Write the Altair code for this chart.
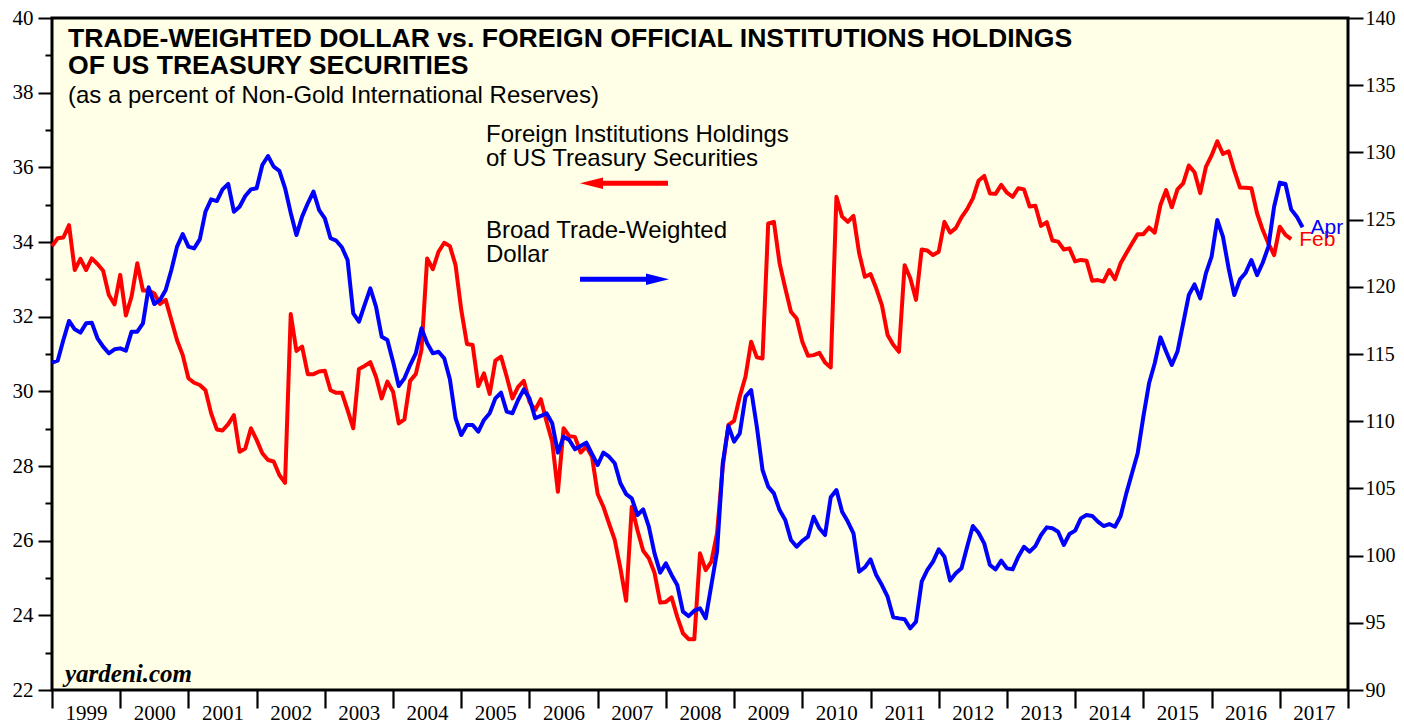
import altair as alt
import pandas as pd

# Foreign official institutions holdings of US Treasuries, % of non-gold reserves (left axis), monthly from Jan 1999
holdings = [
    33.89, 34.10, 34.12, 34.45, 33.25, 33.55, 33.25, 33.56, 33.41, 33.23, 32.58, 32.33,
    33.12, 32.03, 32.54, 33.43, 32.70, 32.70, 32.62, 32.34, 32.45, 31.91, 31.37, 30.97,
    30.35, 30.23, 30.17, 30.03, 29.41, 28.98, 28.95, 29.12, 29.36, 28.38, 28.47, 29.01,
    28.70, 28.34, 28.16, 28.12, 27.76, 27.55, 32.07, 31.08, 31.20, 30.46, 30.46, 30.53,
    30.55, 30.03, 29.96, 29.96, 29.50, 29.01, 30.60, 30.68, 30.78, 30.39, 29.81, 30.26,
    29.99, 29.14, 29.25, 30.28, 30.46, 31.11, 33.56, 33.27, 33.74, 33.98, 33.89, 33.38,
    32.18, 31.27, 31.24, 30.14, 30.48, 29.93, 30.82, 30.93, 30.39, 29.81, 30.12, 30.28,
    29.72, 29.50, 29.79, 29.19, 28.65, 27.31, 29.01, 28.80, 28.78, 28.36, 28.52, 28.25,
    27.25, 26.91, 26.46, 26.02, 25.26, 24.39, 26.91, 26.28, 25.73, 25.53, 25.14, 24.34,
    24.36, 24.48, 23.96, 23.52, 23.36, 23.36, 25.66, 25.21, 25.44, 26.20, 27.98, 29.10,
    29.21, 29.86, 30.39, 31.33, 30.91, 30.88, 34.50, 34.54, 33.43, 32.76, 32.13, 31.95,
    31.33, 30.95, 30.97, 31.03, 30.77, 30.64, 35.21, 34.68, 34.54, 34.70, 33.70, 33.07,
    33.14, 32.76, 32.31, 31.51, 31.25, 31.06, 33.38, 33.03, 32.45, 33.80, 33.77, 33.65,
    33.74, 34.54, 34.25, 34.37, 34.66, 34.88, 35.17, 35.64, 35.77, 35.30, 35.29, 35.53,
    35.32, 35.21, 35.44, 35.41, 34.95, 34.97, 34.43, 34.53, 34.04, 34.01, 33.80, 33.83,
    33.48, 33.52, 33.50, 32.96, 32.98, 32.94, 33.25, 33.00, 33.43, 33.70, 33.96, 34.21,
    34.21, 34.39, 34.25, 34.99, 35.39, 34.93, 35.41, 35.57, 36.05, 35.87, 35.31, 36.01,
    36.32, 36.70, 36.36, 36.43, 35.91, 35.46, 35.45, 35.44, 34.77, 34.32, 33.96, 33.65,
    34.41, 34.19, 34.08,
]

# Broad trade-weighted dollar index (right axis), monthly
dollar = [
    114.35, 114.50, 116.04, 117.46, 116.84, 116.59, 117.28, 117.33, 116.17, 115.55, 115.05, 115.35,
    115.42, 115.25, 116.66, 116.66, 117.28, 119.96, 118.72, 119.02, 119.76, 121.25, 122.99, 123.93,
    122.99, 122.86, 123.53, 125.59, 126.51, 126.38, 127.25, 127.65, 125.59, 125.96, 126.76, 127.25,
    127.33, 129.06, 129.73, 128.94, 128.62, 127.35, 125.50, 123.85, 125.22, 126.21, 127.08, 125.71,
    125.09, 123.61, 123.43, 122.94, 121.99, 118.02, 117.40, 118.65, 119.89, 118.52, 116.29, 116.04,
    114.43, 112.62, 113.19, 114.18, 115.05, 116.91, 115.80, 115.05, 115.17, 114.68, 113.12, 110.22,
    108.97, 109.72, 109.72, 109.22, 110.09, 110.59, 111.70, 112.12, 110.71, 110.59, 111.58, 112.37,
    111.70, 110.22, 110.39, 110.59, 109.84, 107.66, 108.85, 108.60, 107.91, 108.15, 108.40, 107.56,
    106.74, 107.66, 107.36, 106.87, 105.38, 104.58, 104.26, 103.02, 103.44, 102.15, 100.17, 98.73,
    99.43, 98.56, 97.81, 95.83, 95.50, 95.90, 96.08, 95.33, 97.81, 100.29, 106.87, 109.64,
    108.48, 109.10, 111.83, 112.32, 109.59, 106.37, 105.13, 104.63, 103.39, 102.65, 101.16, 100.66,
    101.09, 101.41, 102.89, 102.03, 101.53, 104.34, 104.88, 103.27, 102.53, 101.66, 98.80, 99.13,
    99.72, 98.55, 97.81, 96.94, 95.41, 95.33, 95.26, 94.59, 95.08, 98.06, 98.93, 99.55,
    100.47, 99.92, 98.14, 98.68, 99.05, 100.66, 102.20, 101.70, 100.91, 99.30, 98.98, 99.62,
    99.05, 98.98, 99.92, 100.66, 100.29, 100.71, 101.53, 102.10, 102.03, 101.78, 100.79, 101.61,
    101.86, 102.77, 103.02, 102.95, 102.53, 102.20, 102.35, 102.15, 102.95, 104.63, 106.13, 107.62,
    110.34, 112.82, 114.31, 116.24, 115.18, 114.18, 115.18, 117.28, 119.39, 120.18, 119.14, 121.00,
    122.24, 124.97, 123.73, 121.37, 119.39, 120.55, 121.05, 121.99, 120.87, 121.79, 122.99, 125.96,
    127.75, 127.65, 125.76, 125.22, 124.43,
]

year_ticks = list(range(1999, 2019))
left_ticks = list(range(22, 41))
right_ticks = list(range(90, 141, 5))
end_labels = {"holdings": "Feb", "dollar": "Apr"}

START = 1999.0
hold_df = pd.DataFrame({"t": [START + i / 12 for i in range(len(holdings))], "v": holdings})
dol_df = pd.DataFrame({"t": [START + i / 12 for i in range(len(dollar))], "v": dollar})
hold_last = hold_df.tail(1).assign(lab=end_labels["holdings"])
dol_last = dol_df.tail(1).assign(lab=end_labels["dollar"])

RED = "#FF0000"
BLUE = "#0000FF"
SERIF = "Liberation Serif"
SANS = "Liberation Sans"

xscale = alt.Scale(domain=[1999, 2018], nice=False, zero=False)
lscale = alt.Scale(domain=[22, 40], nice=False, zero=False)
rscale = alt.Scale(domain=[90, 140], nice=False, zero=False)

xaxis = alt.Axis(
    values=year_ticks, format="d", labelExpr="datum.value < 2018 ? datum.label : ''",
    tickSize=18, tickWidth=2.2, tickColor="black", labelOffset=34, labelPadding=-6,
    labelBaseline="top", labelFont=SERIF, labelFontSize=21, labelColor="black",
    labelFlush=False, labelOverlap=False, domain=False, grid=False, title=None,
)
laxis = alt.Axis(
    values=left_ticks, format="d", labelExpr="datum.value % 2 == 0 ? datum.label : ''",
    tickSize={"condition": {"test": "datum.value % 2 == 0", "value": 14}, "value": 7},
    tickWidth=2, tickColor="black", labelPadding=5, labelFont=SERIF, labelFontSize=21,
    labelColor="black", labelFlush=False, labelOverlap=False, domain=False, grid=False, title=None,
)
raxis = alt.Axis(
    orient="right", values=right_ticks, format="d", tickSize=15, tickWidth=2, tickColor="black",
    labelPadding=2, labelFont=SERIF, labelFontSize=20, labelColor="black",
    labelFlush=False, labelOverlap=False, domain=False, grid=False, title=None,
)

red_line = alt.Chart(hold_df).mark_line(color=RED, strokeWidth=4, strokeJoin="round").encode(
    x=alt.X("t:Q", scale=xscale, axis=xaxis),
    y=alt.Y("v:Q", scale=lscale, axis=laxis),
)
blue_line = alt.Chart(dol_df).mark_line(color=BLUE, strokeWidth=4, strokeJoin="round").encode(
    x=alt.X("t:Q", scale=xscale, axis=xaxis),
    y=alt.Y("v:Q", scale=rscale, axis=raxis),
)
red_lab = alt.Chart(hold_last).mark_text(
    align="left", baseline="middle", dx=8, dy=1, font=SANS, fontSize=21, color=RED
).encode(x=alt.X("t:Q", scale=xscale, axis=xaxis), y=alt.Y("v:Q", scale=lscale, axis=None), text="lab:N")
blue_lab = alt.Chart(dol_last).mark_text(
    align="left", baseline="middle", dx=8, dy=1, font=SANS, fontSize=21, color=BLUE
).encode(x=alt.X("t:Q", scale=xscale, axis=xaxis), y=alt.Y("v:Q", scale=rscale, axis=None), text="lab:N")

one = pd.DataFrame({"a": [0]})


def txt(s, x, y, size, weight="normal", style="normal", font=SANS, color="black"):
    return alt.Chart(one).mark_text(
        text=s, align="left", baseline="alphabetic", font=font, fontSize=size,
        fontWeight=weight, fontStyle=style, color=color,
    ).encode(x=alt.value(x), y=alt.value(y))


texts = [
    txt("TRADE-WEIGHTED DOLLAR vs. FOREIGN OFFICIAL INSTITUTIONS HOLDINGS", 16, 29, 26.6, weight="bold"),
    txt("OF US TREASURY SECURITIES", 16, 55.5, 26.6, weight="bold"),
    txt("(as a percent of Non-Gold International Reserves)", 16, 84.5, 24),
    txt("Foreign Institutions Holdings", 434, 124, 24),
    txt("of US Treasury Securities", 434, 148, 24),
    txt("Broad Trade-Weighted", 434, 219.5, 24),
    txt("Dollar", 434, 244, 24),
    txt("yardeni.com", 13, 664, 25, weight="bold", style="italic", font=SERIF),
]

arrows = [
    alt.Chart(one).mark_rule(color=RED, strokeWidth=5, strokeCap="butt").encode(
        x=alt.value(545), x2=alt.value(616), y=alt.value(165.3)),
    alt.Chart(one).mark_point(shape="M -1 0 L 1 -0.5 L 1 0.5 Z", size=529, filled=True, fill=RED,
                              strokeWidth=0, opacity=1).encode(x=alt.value(539.5), y=alt.value(165.3)),
    alt.Chart(one).mark_rule(color=BLUE, strokeWidth=5, strokeCap="butt").encode(
        x=alt.value(528), x2=alt.value(600), y=alt.value(261.3)),
    alt.Chart(one).mark_point(shape="M 1 0 L -1 -0.5 L -1 0.5 Z", size=529, filled=True, fill=BLUE,
                              strokeWidth=0, opacity=1).encode(x=alt.value(605.5), y=alt.value(261.3)),
]

chart = alt.layer(red_line, red_lab, blue_line, blue_lab, *texts, *arrows).resolve_scale(
    y="independent"
).properties(
    width=1296, height=672, autosize=alt.AutoSizeParams(type="none"),
    padding={"left": 44, "top": 10, "right": 48, "bottom": 31}, background="white",
).configure_view(
    fill="#FFFEE6", stroke="black", strokeWidth=3
)

chart.save("out.html", embed_options={"renderer": "svg", "actions": False})
